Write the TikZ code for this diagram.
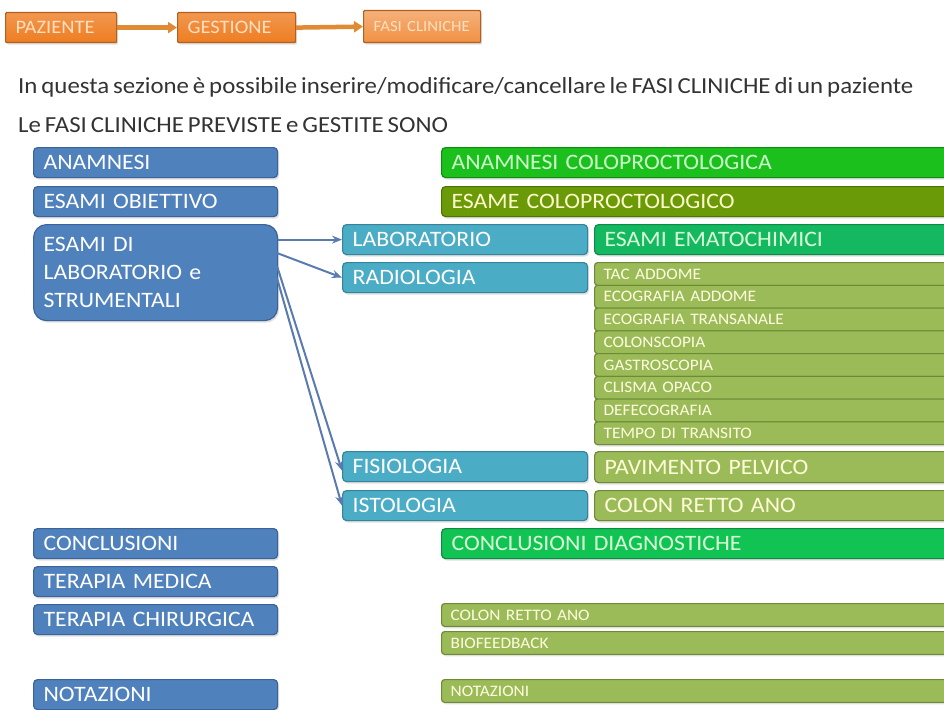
\documentclass[tikz,border=0pt]{standalone}
\usepackage{fontspec}
\setmainfont{Carlito}[FakeStretch=1.08, WordSpace=0.7]
\usetikzlibrary{arrows.meta,shadows}

\definecolor{boxblue}{HTML}{4F81BD}
\definecolor{boxblueD}{HTML}{3A6399}
\definecolor{boxteal}{HTML}{4BACC6}
\definecolor{boxtealD}{HTML}{35849A}
\definecolor{boxolive}{HTML}{9BBB59}
\definecolor{boxoliveD}{HTML}{6E8A36}
\definecolor{boxdkolive}{HTML}{6A9A08}
\definecolor{boxdkoliveD}{HTML}{4E7300}
\definecolor{boxgreen}{HTML}{1CC01C}
\definecolor{boxgreenD}{HTML}{0E8E0E}
\definecolor{boxjade}{HTML}{14B860}
\definecolor{boxjadeD}{HTML}{0C8A46}
\definecolor{boxorange}{HTML}{EE7D22}
\definecolor{boxorangeD}{HTML}{B0601F}
\definecolor{linkblue}{HTML}{5A7BB0}
\definecolor{linkorange}{HTML}{E08A34}

\tikzset{
  bx/.style={rectangle, rounded corners=4pt, anchor=north west, inner xsep=10pt,
    inner ysep=0pt, align=left, line width=1.2pt,
    font=\fontsize{22}{28}\selectfont,
    drop shadow={shadow xshift=1.5pt, shadow yshift=-2pt, opacity=0.25}},
  bluebox/.style={bx, fill=boxblue, draw=boxblueD, text=white, text width=224pt, minimum height=30pt},
  tealbox/.style={bx, fill=boxteal, draw=boxtealD, text=white, text width=225pt, minimum height=30pt},
  widebox/.style={bx, text width=489pt, minimum height=30pt},
  rightbox/.style={bx, text width=336pt, minimum height=30pt},
  listbox/.style={bx, rounded corners=3pt, fill=boxolive, draw=boxoliveD, text=white!88!yellow,
    text width=338pt, inner xsep=9pt, minimum height=22.75pt, font=\fontsize{16}{18}\selectfont},
  smallbox/.style={listbox, text width=491pt},
  orangebox/.style={bx, rounded corners=1pt, top color=boxorange!80!white, bottom color=boxorange,
    draw=boxorangeD, text=white!75!orange, minimum height=30pt, font=\fontsize{19}{22}\selectfont},
  link/.style={draw=linkblue, line width=2pt, -{Stealth[length=10pt,width=8pt]}},
  orangelink/.style={draw=linkorange, line width=4.5pt, -{Triangle[length=9pt,width=11pt]}}
}

\begin{document}
\begin{tikzpicture}[x=1pt, y=-1pt]
\useasboundingbox (0,0) rectangle (944,709);

% percorso in alto
\node[orangebox, text width=91pt] (paz) at (5,12) {PAZIENTE};
\node[orangebox, text width=98pt] (gest) at (177,12) {GESTIONE};
\node[orangebox, top color=boxorange!60!white, bottom color=boxorange!85!white, text width=97pt,
  minimum height=32pt, font=\fontsize{15.5}{18}\selectfont] (fasi) at (363,10) {FASI CLINICHE};
\draw[orangelink] (paz.east) -- (gest.west);
\draw[orangelink] (gest.east) -- (fasi.west);

% testo
\node[anchor=west, inner sep=0pt, text=black!80, font=\fontsize{23}{26}\selectfont] (intro) at (18,87)
  {In questa sezione è possibile inserire/modificare/cancellare le FASI CLINICHE di un paziente};
\node[anchor=west, inner sep=0pt, text=black!80, font=\fontsize{23}{26}\selectfont] (elenco) at (18,125)
  {Le FASI CLINICHE PREVISTE e GESTITE SONO};

% colonna sinistra
\node[bluebox] (anam) at (33,147) {ANAMNESI};
\node[bluebox] (esob) at (33,186) {ESAMI OBIETTIVO};
\node[bluebox, rounded corners=13pt, minimum height=96pt] (esla) at (33,224)
  {ESAMI DI\\LABORATORIO e\\STRUMENTALI};
\node[bluebox] (concl) at (33,528) {CONCLUSIONI};
\node[bluebox] (term) at (33,566) {TERAPIA MEDICA};
\node[bluebox] (terc) at (33,604) {TERAPIA CHIRURGICA};
\node[bluebox] (nota) at (33,679) {NOTAZIONI};

% colonna centrale
\node[tealbox] (lab) at (342,224) {LABORATORIO};
\node[tealbox] (rad) at (342,262) {RADIOLOGIA};
\node[tealbox] (fis) at (342,451) {FISIOLOGIA};
\node[tealbox] (ist) at (342,490) {ISTOLOGIA};

% colonna destra
\node[widebox, fill=boxgreen, draw=boxgreenD, text=white!80!green] (anamc) at (441,147) {ANAMNESI COLOPROCTOLOGICA};
\node[widebox, fill=boxdkolive, draw=boxdkoliveD, text=white!80!yellow] (esamc) at (441,186) {ESAME COLOPROCTOLOGICO};
\node[rightbox, fill=boxjade, draw=boxjadeD, text=white!85!green] (ema) at (594,224) {ESAMI EMATOCHIMICI};
\foreach \esame [count=\i] in {TAC ADDOME, ECOGRAFIA ADDOME, ECOGRAFIA TRANSANALE, COLONSCOPIA,
    GASTROSCOPIA, CLISMA OPACO, DEFECOGRAFIA, TEMPO DI TRANSITO}
  \node[listbox] (radio\i) at (594,{262+(\i-1)*22.75}) {\esame};
\node[rightbox, fill=boxolive, draw=boxoliveD, text=white!85!yellow, minimum height=31pt] (pav) at (594,451) {PAVIMENTO PELVICO};
\node[rightbox, fill=boxolive, draw=boxoliveD, text=white!85!yellow] (cra) at (594,490) {COLON RETTO ANO};
\node[widebox, fill=boxjade!85!green, draw=boxjadeD, text=white!85!green] (concd) at (441,528) {CONCLUSIONI DIAGNOSTICHE};
\node[smallbox] (chcra) at (441,603) {COLON RETTO ANO};
\node[smallbox] (biof) at (441,631) {BIOFEEDBACK};
\node[smallbox] (nota2) at (441,679) {NOTAZIONI};

% collegamenti
\coordinate (s2) at (277,253);
\coordinate (s3) at (277,266);
\coordinate (s4) at (277,278);
\draw[link] (esla.east |- lab.west) -- (lab.west);
\draw[link] (s2) -- (rad.west);
\draw[link] (s3) -- ([yshift=-4pt]fis.west);
\draw[link] (s4) -- (ist.west);
\end{tikzpicture}
\end{document}
